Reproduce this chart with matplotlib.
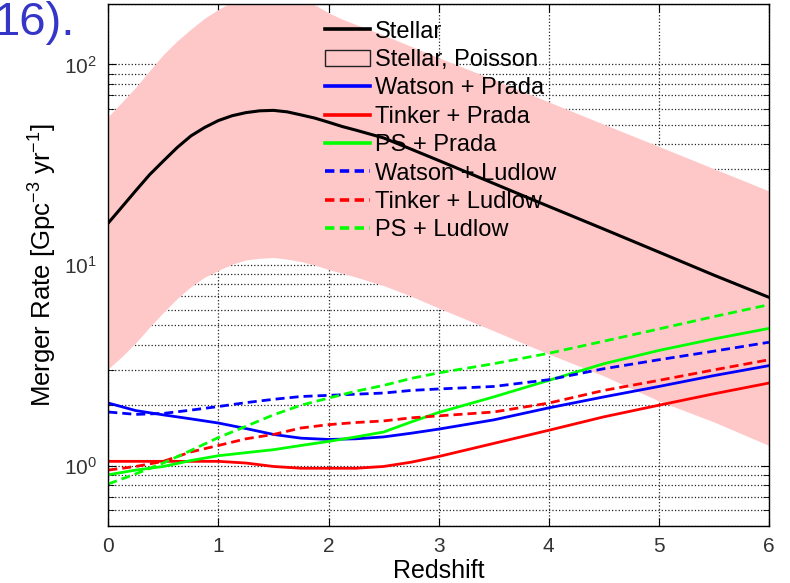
import numpy as np
import matplotlib
matplotlib.use('Agg')
import matplotlib.pyplot as plt
from matplotlib.lines import Line2D
from matplotlib.patches import Patch

plt.rcParams['font.family'] = ['Liberation Sans', 'DejaVu Sans']
plt.rcParams['mathtext.fontset'] = 'custom'
plt.rcParams['mathtext.rm'] = 'Liberation Sans'
plt.rcParams['mathtext.it'] = 'Liberation Sans:italic'
plt.rcParams['mathtext.bf'] = 'Liberation Sans:bold'

# finer redshift grid for the stellar curve and its band
z_s = [0, 0.125, 0.25, 0.375, 0.5, 0.625, 0.75, 0.875, 1.0, 1.125, 1.25, 1.375,
       1.5, 1.625, 1.75, 1.875, 2.0, 2.125, 2.25, 2.5, 2.75,
       3.0, 3.5, 4.0, 4.5, 5.0, 5.5, 6.0]

# stellar-mass based rate and its Poisson band
stellar = [16.2, 19.5, 23.5, 28.2, 33.0, 38.5, 44.0, 48.5, 52.5, 55.5, 57.5, 58.7,
           59.0, 58.0, 56.0, 54.0, 51.5, 49.0, 47.0, 43.0, 37.8,
           33.2, 25.5, 19.6, 15.1, 11.6, 8.9, 6.9]
stellar_hi = [55, 65, 77, 93, 112, 131, 150, 170, 188, 205, 215, 220,
              222, 218, 212, 198, 181, 168, 158, 140, 123,
              108, 84, 65, 50.3, 39, 30.2, 23.4]
stellar_lo = [3.04, 3.5, 4.1, 4.9, 5.8, 6.8, 7.8, 8.7, 9.4, 10.1, 10.6, 10.8,
              10.9, 10.7, 10.4, 10.0, 9.5, 9.1, 8.7, 7.9, 7.0,
              6.1, 4.7, 3.6, 2.8, 2.1, 1.65, 1.26]

# redshift grid for the halo-model curves
z = [0, 0.25, 0.5, 0.75, 1.0, 1.25, 1.5, 1.75, 2.0, 2.25, 2.5, 2.75,
     3.0, 3.5, 4.0, 4.5, 5.0, 5.5, 6.0]

# halo mass function + concentration combinations
watson_prada = [2.05, 1.88, 1.79, 1.71, 1.63, 1.53, 1.43, 1.37, 1.35, 1.36, 1.39, 1.45,
                1.52, 1.69, 1.94, 2.2, 2.48, 2.81, 3.15]
tinker_prada = [1.05, 1.05, 1.05, 1.05, 1.05, 1.03, 0.99, 0.97, 0.97, 0.97, 0.99, 1.04,
                1.11, 1.29, 1.50, 1.75, 2.0, 2.28, 2.58]
ps_prada = [0.90, 0.95, 0.99, 1.06, 1.12, 1.16, 1.20, 1.26, 1.32, 1.39, 1.47, 1.65,
            1.84, 2.2, 2.66, 3.22, 3.75, 4.28, 4.83]
watson_ludlow = [1.85, 1.80, 1.82, 1.89, 1.97, 2.06, 2.14, 2.21, 2.24, 2.27, 2.30, 2.37,
                 2.41, 2.48, 2.68, 3.04, 3.37, 3.72, 4.12]
tinker_ludlow = [0.95, 0.99, 1.05, 1.17, 1.26, 1.36, 1.43, 1.54, 1.60, 1.64, 1.67, 1.73,
                 1.77, 1.85, 2.05, 2.37, 2.66, 3.0, 3.37]
ps_ludlow = [0.81, 0.91, 1.03, 1.19, 1.38, 1.57, 1.79, 2.0, 2.17, 2.35, 2.51, 2.72,
             2.9, 3.22, 3.63, 4.17, 4.8, 5.53, 6.34]

fig = plt.figure(figsize=(7.9, 5.83), dpi=100)
ax = fig.add_axes([0.1371, 0.0978, 0.8363, 0.8953])

ax.fill_between(z_s, stellar_lo, stellar_hi, color='#ffc8c8', lw=0, zorder=1)
ax.plot(z_s, stellar, color='k', lw=2.2, zorder=3)

dash = (3.25, 1.8)
ax.plot(z, watson_prada, color='#0000ff', lw=2.0, zorder=3)
ax.plot(z, tinker_prada, color='#ff0000', lw=2.0, zorder=3)
ax.plot(z, ps_prada, color='#00ff00', lw=2.0, zorder=3)
ax.plot(z, watson_ludlow, color='#0000ff', lw=2.0, dashes=dash, zorder=3)
ax.plot(z, tinker_ludlow, color='#ff0000', lw=2.0, dashes=dash, zorder=3)
ax.plot(z, ps_ludlow, color='#00ff00', lw=2.0, dashes=dash, zorder=3)

ax.set_yscale('log')
ax.set_xlim(0, 6)
ax.set_ylim(0.5, 200)
ax.set_xticks(range(7))

ax.set_axisbelow(True)
ax.grid(True, which='major', axis='both', linestyle=':', color='#222222', lw=0.9)
ax.grid(True, which='minor', axis='y', linestyle=':', color='#222222', lw=0.9)
ax.tick_params(which='both', direction='in', top=True, right=True, labelsize=15,
               labelcolor='#333333', pad=8)
ax.tick_params(which='major', length=6)
ax.tick_params(which='minor', length=4)
for s in ax.spines.values():
    s.set_linewidth(1.0)
    s.set_zorder(4)

ax.set_xlabel('Redshift', fontsize=18, labelpad=2)
ax.set_ylabel('Merger Rate [Gpc$^{-3}$ yr$^{-1}$]', fontsize=18.5, labelpad=4)

handles = [
    Line2D([], [], color='k', lw=2.6),
    Patch(facecolor='none', edgecolor='#222222', lw=1.0),
    Line2D([], [], color='#0000ff', lw=2.6),
    Line2D([], [], color='#ff0000', lw=2.6),
    Line2D([], [], color='#00ff00', lw=2.6),
    Line2D([], [], color='#0000ff', lw=2.6, dashes=(2.6, 1.5)),
    Line2D([], [], color='#ff0000', lw=2.6, dashes=(2.6, 1.5)),
    Line2D([], [], color='#00ff00', lw=2.6, dashes=(2.6, 1.5)),
]
labels = ['Stellar', 'Stellar, Poisson', 'Watson + Prada', 'Tinker + Prada',
          'PS + Prada', 'Watson + Ludlow', 'Tinker + Ludlow', 'PS + Ludlow']
leg = ax.legend(handles, labels, loc='upper left', bbox_to_anchor=(0.328, 0.968),
                frameon=False, fontsize=17, handlelength=1.9, handletextpad=0.2,
                labelspacing=0.27, borderpad=0, borderaxespad=0)
leg.set_zorder(5)

fig.text(-0.008, 0.94, '16).', fontsize=34, color='#3535c8', ha='left', va='baseline')

fig.savefig('out.png', dpi=100)
